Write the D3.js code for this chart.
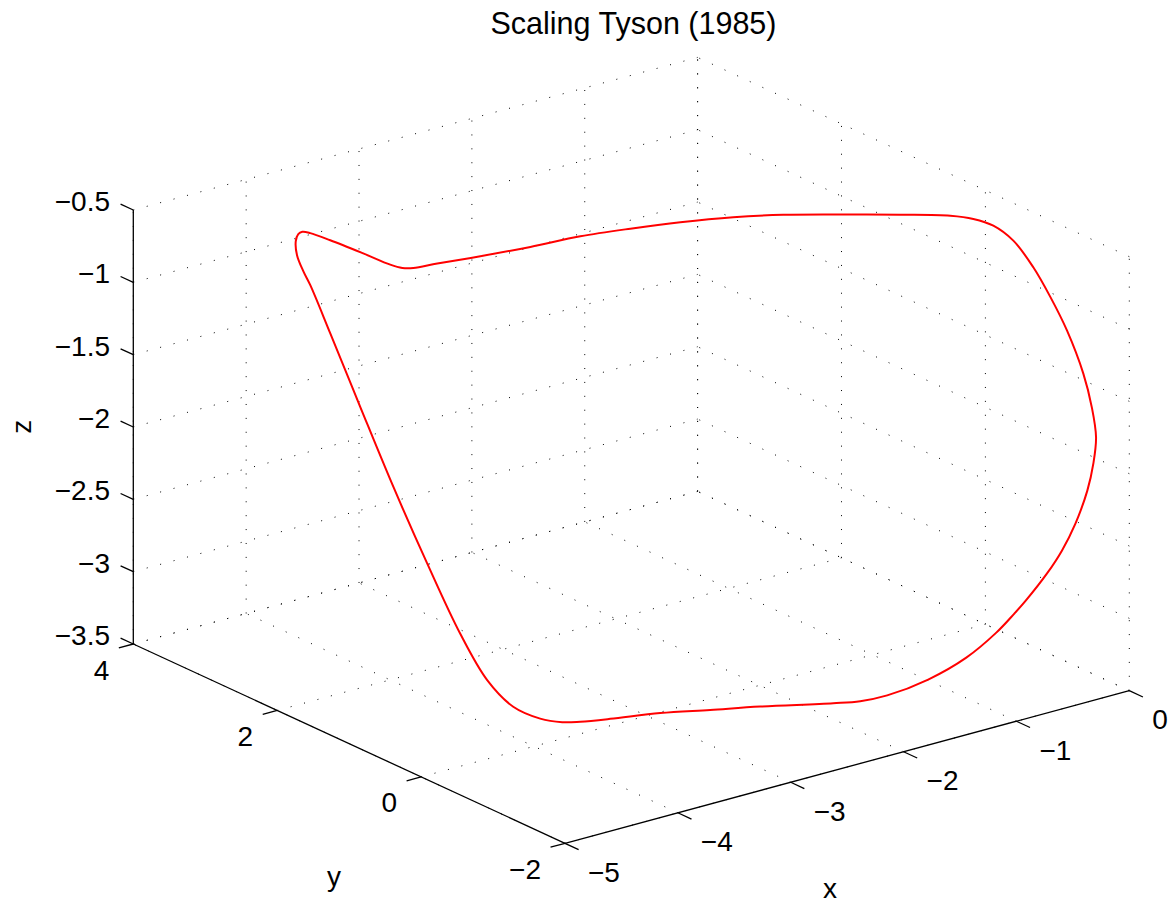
<!DOCTYPE html>
<html>
<head>
<meta charset="UTF-8">
<title>Scaling Tyson (1985)</title>
<script src="https://d3js.org/d3.v7.min.js"></script>
<style>
  body { margin: 0; background: #fff; }
  text { font-family: "Liberation Sans", Arial, Helvetica, sans-serif; fill: #000; }
  .grid { stroke: #000; stroke-width: 1; stroke-dasharray: 1 12.9; fill: none; }
  .axis { stroke: #000; stroke-width: 1.3; fill: none; }
</style>
</head>
<body>
<svg id="chart" width="1176" height="903"></svg>
<script>
// limit cycle (points lie on one plane of the orbit)
const xs = [-4.240, -4.214, -4.187, -4.144, -4.043, -3.878, -3.744, -3.681, -3.619, -3.475,
            -3.218, -2.918, -2.616, -2.319, -2.024, -1.715, -1.426, -1.142, -0.762, -0.480,
            -0.355, -0.253, -0.165, -0.097, -0.051, -0.014, -0.005, -0.005, -0.032, -0.092,
            -0.173, -0.297, -0.420, -0.545, -0.711, -0.798, -0.933, -1.146, -1.400, -1.660,
            -1.823, -1.980, -2.400, -2.690, -2.979, -3.273, -3.448, -3.551, -3.670, -3.803,
            -3.905, -3.979, -4.046, -4.107, -4.158, -4.202, -4.233, -4.248, -4.257];
const ys = [2.934, 2.940, 2.926, 2.883, 2.764, 2.564, 2.399, 2.330, 2.275, 2.167,
            1.972, 1.747, 1.526, 1.297, 1.065, 0.814, 0.571, 0.322, -0.013, -0.265,
            -0.389, -0.507, -0.647, -0.818, -0.984, -1.157, -1.369, -1.487, -1.588, -1.645,
            -1.688, -1.717, -1.722, -1.709, -1.676, -1.654, -1.615, -1.532, -1.401, -1.239,
            -1.120, -0.991, -0.635, -0.394, -0.153, 0.081, 0.223, 0.311, 0.431, 0.597,
            0.799, 1.059, 1.412, 1.787, 2.167, 2.514, 2.743, 2.812, 2.890];
const zs = [-0.631, -0.589, -0.576, -0.584, -0.627, -0.707, -0.775, -0.795, -0.796, -0.771,
            -0.730, -0.677, -0.617, -0.574, -0.538, -0.511, -0.500, -0.500, -0.505, -0.514,
            -0.534, -0.575, -0.665, -0.824, -1.002, -1.202, -1.452, -1.658, -1.836, -1.991,
            -2.152, -2.347, -2.507, -2.643, -2.802, -2.878, -2.990, -3.137, -3.265, -3.357,
            -3.390, -3.401, -3.417, -3.434, -3.450, -3.482, -3.497, -3.499, -3.477, -3.405,
            -3.246, -2.968, -2.550, -2.093, -1.617, -1.180, -0.893, -0.814, -0.714];

const xTicks = [-5, -4, -3, -2, -1, 0];
const yTicks = [-2, 0, 2, 4];
const zTicks = [-3.5, -3, -2.5, -2, -1.5, -1, -0.5];

const fmt = v => String(v).replace("-", "\u2212");

// 3d box as seen on screen: front bottom corner and the three edge vectors
const O  = [565, 843.3];
const EX = [564.3, -152.6];
const EY = [-431.7, -199.3];
const EZ = [0, -434];

const sx = d3.scaleLinear().domain([-5, 0]).range([0, 1]);
const sy = d3.scaleLinear().domain([-2, 4]).range([0, 1]);
const sz = d3.scaleLinear().domain([-3.5, -0.5]).range([0, 1]);

function proj(x, y, z) {
    const a = sx(x), b = sy(y), c = sz(z);
    return [O[0] + a * EX[0] + b * EY[0] + c * EZ[0],
            O[1] + a * EX[1] + b * EY[1] + c * EZ[1]];
}
function unit(v) { const l = Math.hypot(v[0], v[1]); return [v[0] / l, v[1] / l]; }

const svg = d3.select("#chart");
svg.append("rect").attr("width", 1176).attr("height", 903).attr("fill", "#fff");

// dotted grid on the floor and the two back walls
const grid = [];
xTicks.forEach(t => {
    grid.push([proj(t, -2, -3.5), proj(t, 4, -3.5)]);
    grid.push([proj(t, 4, -3.5), proj(t, 4, -0.5)]);
});
yTicks.forEach(t => {
    grid.push([proj(-5, t, -3.5), proj(0, t, -3.5)]);
    grid.push([proj(0, t, -3.5), proj(0, t, -0.5)]);
});
zTicks.forEach(t => {
    grid.push([proj(-5, 4, t), proj(0, 4, t)]);
    grid.push([proj(0, -2, t), proj(0, 4, t)]);
});
svg.append("g").selectAll("line").data(grid).enter().append("line")
    .attr("class", "grid")
    .attr("x1", d => d[0][0]).attr("y1", d => d[0][1])
    .attr("x2", d => d[1][0]).attr("y2", d => d[1][1]);

// axis lines
const axes = [
    [proj(-5, -2, -3.5), proj(0, -2, -3.5)],
    [proj(-5, -2, -3.5), proj(-5, 4, -3.5)],
    [proj(-5, 4, -3.5), proj(-5, 4, -0.5)]
];
svg.append("g").selectAll("line").data(axes).enter().append("line")
    .attr("class", "axis")
    .attr("x1", d => d[0][0]).attr("y1", d => d[0][1])
    .attr("x2", d => d[1][0]).attr("y2", d => d[1][1]);

// ticks
const ux = unit(EX), uy = unit(EY);
const ticks = [];
xTicks.forEach(t => { const p = proj(t, -2, -3.5); ticks.push([p, [p[0] - uy[0] * 15, p[1] - uy[1] * 15]]); });
yTicks.forEach(t => { const p = proj(-5, t, -3.5); ticks.push([p, [p[0] - ux[0] * 15, p[1] - ux[1] * 15]]); });
zTicks.forEach(t => { const p = proj(-5, 4, t); ticks.push([p, [p[0] + uy[0] * 14, p[1] + uy[1] * 14]]); });
svg.append("g").selectAll("line").data(ticks).enter().append("line")
    .attr("class", "axis")
    .attr("x1", d => d[0][0]).attr("y1", d => d[0][1])
    .attr("x2", d => d[1][0]).attr("y2", d => d[1][1]);

// tick labels
svg.append("g").selectAll("text").data(xTicks).enter().append("text")
    .attr("x", d => proj(d, -2, -3.5)[0] + 23)
    .attr("y", d => proj(d, -2, -3.5)[1] + 38.5)
    .attr("font-size", 28)
    .text(fmt);
svg.append("g").selectAll("text").data(yTicks).enter().append("text")
    .attr("x", d => proj(-5, d, -3.5)[0] - 24)
    .attr("y", d => proj(-5, d, -3.5)[1] + 35.5)
    .attr("font-size", 28)
    .attr("text-anchor", "end")
    .text(fmt);
svg.append("g").selectAll("text").data(zTicks).enter().append("text")
    .attr("x", 110)
    .attr("y", d => proj(-5, 4, d)[1] + 1)
    .attr("font-size", 28)
    .attr("text-anchor", "end")
    .text(fmt);

// axis labels and title
svg.append("text").attr("x", 830).attr("y", 898).attr("font-size", 28)
    .attr("text-anchor", "middle").text("x");
svg.append("text").attr("x", 334).attr("y", 886).attr("font-size", 28)
    .attr("text-anchor", "middle").text("y");
svg.append("text").attr("transform", "translate(30.7,426.7) rotate(-90)").attr("font-size", 28)
    .attr("text-anchor", "middle").text("z");
svg.append("text").attr("x", 633.5).attr("y", 33.5).attr("font-size", 30.5)
    .attr("text-anchor", "middle").text("Scaling Tyson (1985)");

// the orbit
const pts = xs.map((x, i) => proj(x, ys[i], zs[i]));
svg.append("path")
    .attr("d", d3.line().curve(d3.curveCatmullRomClosed)(pts))
    .attr("fill", "none")
    .attr("stroke", "#ff0000")
    .attr("stroke-width", 2);
</script>
</body>
</html>
